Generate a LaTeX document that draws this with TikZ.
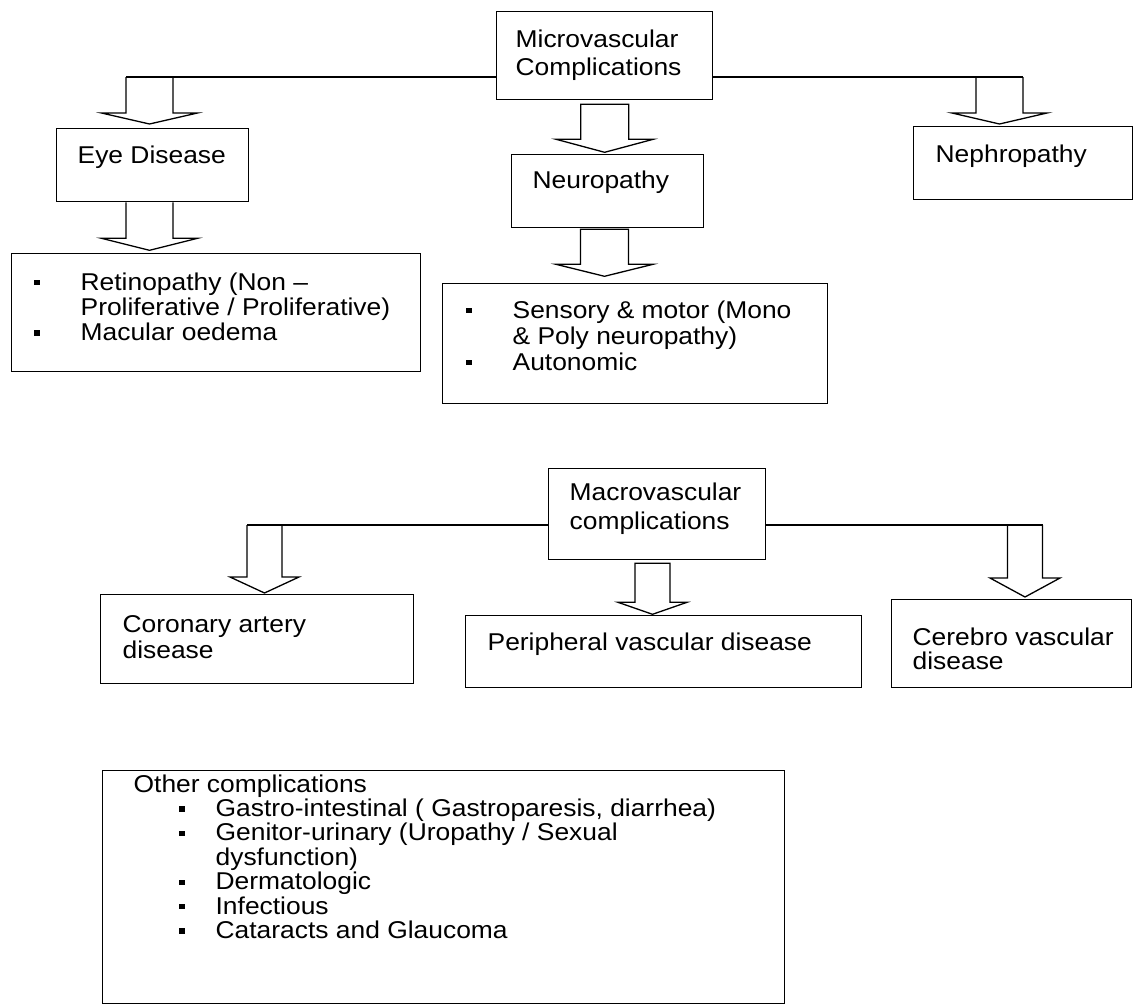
\documentclass[tikz,border=0pt]{standalone}
\usepackage{fontspec}
\setmainfont{Liberation Sans}
\usepackage{graphicx}
\usetikzlibrary{calc}

% text is set slightly flattened
\newcommand\squash[1]{\scalebox{1}[0.92]{#1}}
% square list bullet
\newcommand\blt{\rule[5pt]{6pt}{6pt}}
% hollow block arrow pointing down:
% #1 top centre, #2 shaft half width, #3 shaft length, #4 head half width, #5 head depth, #6 closing
\newcommand\hollowdown[6]{%
  \draw ($(#1)+(-#2,0)$) -- ++(0,#3) -- ++(#2-#4,0) -- ++(#4,#5) -- ++(#4,-#5)
        -- ++(#2-#4,0) -- ++(0,-#3) #6;}

\begin{document}
\begin{tikzpicture}[x=1pt, y=-1pt, line width=1.3pt, line join=miter,
  panel/.style={draw, rectangle, inner sep=0pt, anchor=north west},
  boxtext/.style={anchor=base west, inner sep=0pt, font=\fontsize{26.4}{#1}\selectfont},
  boxtext/.default=28.3]
\useasboundingbox (0,0) rectangle (1144,1007);

% ---------------- microvascular ----------------
\node[panel, minimum width=216pt, minimum height=88pt] (micro) at (496,11) {};
\node[boxtext=31] (microT) at (515,47)
  {\squash{\begin{tabular}[t]{@{}l@{}}Microvascular\\Complications\end{tabular}}};

\node[panel, minimum width=192pt, minimum height=73pt] (eye) at (56,128) {};
\node[boxtext] (eyeT) at (77,163) {\squash{Eye Disease}};

\node[panel, minimum width=192pt, minimum height=73pt] (neuro) at (511,154) {};
\node[boxtext] (neuroT) at (532,188) {\squash{Neuropathy}};

\node[panel, minimum width=219pt, minimum height=73pt] (nephro) at (913,126) {};
\node[boxtext] (nephroT) at (935,162) {\squash{Nephropathy}};

\node[panel, minimum width=409pt, minimum height=118pt] (retino) at (11,253) {};
\node[boxtext=27.2] (retinoT) at (33,290)
  {\squash{\begin{tabular}[t]{@{}p{47pt}@{}l@{}}
   \blt & Retinopathy (Non –\\
        & Proliferative / Proliferative)\\
   \blt & Macular oedema
  \end{tabular}}};

\node[panel, minimum width=385pt, minimum height=120pt] (sensory) at (442,283) {};
\node[boxtext=28.3] (sensoryT) at (465,318)
  {\squash{\begin{tabular}[t]{@{}p{47pt}@{}l@{}}
   \blt & Sensory \& motor (Mono\\
        & \& Poly neuropathy)\\
   \blt & Autonomic
  \end{tabular}}};

% connectors
\coordinate (eyeIn) at (149.5,77);
\coordinate (nephroIn) at (999.5,77);
\draw (micro.west |- eyeIn) -- ($(eyeIn)+(-23.5,0)$);
\draw (micro.east |- nephroIn) -- ($(nephroIn)+(23.5,0)$);
\hollowdown{eyeIn}{23.5}{36}{48}{11}{}
\hollowdown{nephroIn}{23.5}{36}{47.5}{11}{}

\coordinate (eyeOut) at (149.5,0 |- eye.south);
\hollowdown{eyeOut}{23.5}{36}{48}{12}{}

\coordinate (microOut) at ($(micro.south)+(0,4)$);
\hollowdown{microOut}{24}{35}{48.5}{13}{-- cycle}

\coordinate (neuroOut) at ($(604.5,0 |- neuro.south)+(0,1)$);
\hollowdown{neuroOut}{24}{35}{48.5}{12}{-- cycle}

% ---------------- macrovascular ----------------
\node[panel, minimum width=217pt, minimum height=91pt] (macro) at (548,468) {};
\node[boxtext=32.6] (macroT) at (569,500)
  {\squash{\begin{tabular}[t]{@{}l@{}}Macrovascular\\complications\end{tabular}}};

\node[panel, minimum width=313pt, minimum height=89pt] (coronary) at (100,594) {};
\node[boxtext=28.3] (coronaryT) at (122,632)
  {\squash{\begin{tabular}[t]{@{}l@{}}Coronary artery\\disease\end{tabular}}};

\node[panel, minimum width=396pt, minimum height=72pt] (peripheral) at (465,615) {};
\node[boxtext] (peripheralT) at (487,650) {\squash{Peripheral vascular disease}};

\node[panel, minimum width=240pt, minimum height=88pt] (cerebro) at (891,599) {};
\node[boxtext=26.1] (cerebroT) at (912,645)
  {\squash{\begin{tabular}[t]{@{}l@{}}Cerebro vascular\\disease\end{tabular}}};

\coordinate (corIn) at (264.5,525);
\coordinate (cerIn) at (1025,525);
\draw (macro.west |- corIn) -- ($(corIn)+(-17.5,0)$);
\draw (macro.east |- cerIn) -- ($(cerIn)+(17.5,0)$);
\hollowdown{corIn}{17.5}{52}{34.5}{16}{}
\hollowdown{cerIn}{17.5}{53}{35}{19}{}

\coordinate (macroOut) at ($(652.5,0 |- macro.south)+(0,3)$);
\hollowdown{macroOut}{17.5}{39}{34.5}{12}{-- cycle}

% ---------------- other complications ----------------
\node[panel, minimum width=682pt, minimum height=233pt] (other) at (102,770) {};
\node[boxtext=24.7] (otherT) at (133,792)
  {\squash{\begin{tabular}[t]{@{}p{45pt}@{}p{37pt}@{}l@{}}
   \multicolumn{3}{@{}l@{}}{Other complications}\\
   & \blt & Gastro-intestinal ( Gastroparesis, diarrhea)\\
   & \blt & Genitor-urinary (Uropathy / Sexual\\
   &      & dysfunction)\\
   & \blt & Dermatologic\\
   & \blt & Infectious\\
   & \blt & Cataracts and Glaucoma
  \end{tabular}}};

\end{tikzpicture}
\end{document}
